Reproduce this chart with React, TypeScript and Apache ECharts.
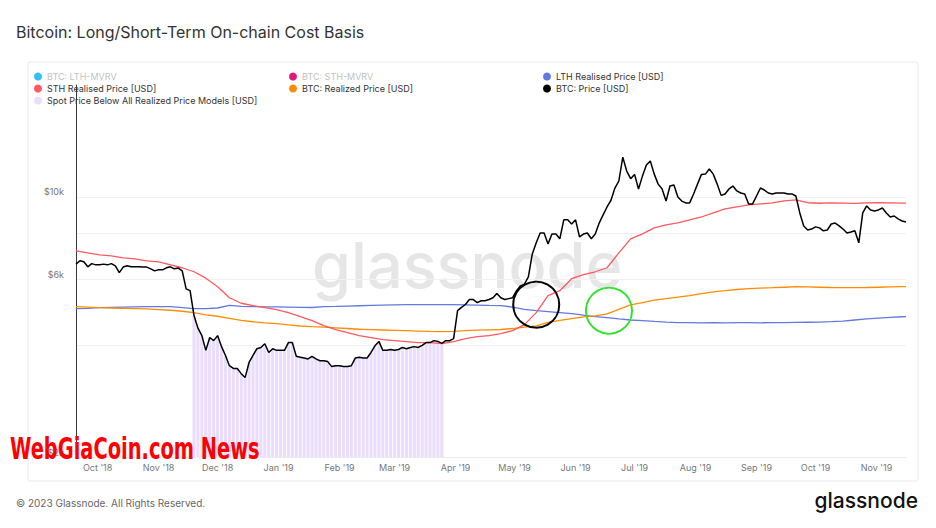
import React, { useEffect, useRef } from 'react';
import * as echarts from 'echarts';

// ---- data ----
const seriesStart = '2018-09-20';
const priceStepDays = 2;
const btcPrice = [
  6600, 6740, 6700, 6490, 6620, 6570, 6570, 6600, 6570, 6620,
  6530, 6260, 6480, 6530, 6490, 6490, 6490, 6480, 6480, 6410,
  6330, 6370, 6370, 6450, 6490, 6410, 6440, 6330, 5660, 5600,
  4800, 4440, 4240, 3870, 4190, 4110, 4240, 3960, 3750, 3520,
  3460, 3460, 3350, 3270, 3590, 3750, 3910, 3940, 4030, 3820,
  3910, 3870, 3870, 3870, 4060, 4060, 3730, 3710, 3690, 3670,
  3730, 3670, 3630, 3630, 3610, 3500, 3520, 3520, 3500, 3500,
  3520, 3690, 3710, 3690, 3690, 3820, 3980, 4090, 3870, 3870,
  3890, 3870, 3890, 3940, 3910, 3940, 3960, 3940, 3990, 4060,
  4060, 4110, 4090, 4040, 4110, 4110, 4160, 4950, 5050, 5140,
  5300, 5300, 5200, 5260, 5260, 5300, 5360, 5500, 5360, 5300,
  5330, 5360, 5600, 5770, 5830, 6100, 7030, 7530, 8000, 8000,
  7480, 7950, 7950, 7720, 8680, 8680, 8460, 8680, 7810, 7950,
  8000, 7720, 7950, 8510, 8950, 9400, 9800, 10570, 11040, 12800,
  11740, 11200, 11500, 10510, 11380, 12190, 12490, 11520, 10830, 10510,
  9750, 10700, 10770, 10000, 9750, 9640, 9640, 10190, 10830, 11500,
  11520, 11890, 11520, 10830, 10100, 10190, 10510, 10700, 10380, 10250,
  10190, 9580, 9580, 10060, 10570, 10440, 10250, 10190, 10250, 10250,
  10250, 10190, 10190, 10060, 9060, 8360, 8150, 8200, 8310, 8260,
  8110, 8150, 8460, 8510, 8360, 8200, 8000, 8050, 8110, 7530,
  9060, 9460, 9230, 9170, 9230, 9340, 9060, 8840, 8890, 8730,
  8620, 8570,
];

const modelStepDays = 6;
const modelLastDay = 422;
const sthRealisedPrice = [
  7166, 7080, 6992, 6948, 6863, 6821, 6737, 6696, 6573, 6453,
  6295, 6050, 5740, 5360, 5180, 5104, 5041, 4979, 4888, 4771,
  4652, 4511, 4403, 4322, 4240, 4189, 4137, 4111, 4086, 4060,
  4060, 4035, 4086, 4163, 4214, 4240, 4294, 4374, 4539, 4888,
  5428, 5598, 6030, 6181, 6295, 6453, 7078, 7716, 7957, 8257,
  8411, 8514, 8673, 8835, 9060, 9286, 9400, 9518, 9577, 9636,
  9757, 9817, 9650, 9620, 9640, 9630, 9610, 9640, 9650, 9640,
  9630, 9630,
];
const lthRealisedPrice = [
  5008, 5020, 5040, 5050, 5060, 5065, 5072, 5075, 5070, 5040,
  5010, 5010, 5030, 5110, 5080, 5072, 5065, 5065, 5060, 5050,
  5045, 5072, 5080, 5090, 5100, 5110, 5120, 5130, 5136, 5136,
  5136, 5136, 5136, 5130, 5120, 5110, 5104, 5060, 4990, 4950,
  4920, 4890, 4860, 4810, 4770, 4740, 4700, 4670, 4652, 4630,
  4610, 4595, 4595, 4590, 4595, 4590, 4595, 4595, 4590, 4595,
  4595, 4600, 4605, 4610, 4623, 4640, 4670, 4700, 4725, 4745,
  4765, 4771,
];
const btcRealizedPrice = [
  5072, 5056, 5040, 5030, 5020, 5010, 5000, 4980, 4960, 4930,
  4885, 4820, 4780, 4720, 4660, 4620, 4590, 4566, 4530, 4500,
  4480, 4470, 4450, 4430, 4410, 4400, 4390, 4380, 4370, 4360,
  4350, 4346, 4350, 4374, 4385, 4395, 4403, 4430, 4470, 4500,
  4600, 4660, 4710, 4760, 4790, 4850, 4990, 5130, 5200, 5280,
  5330, 5380, 5428, 5500, 5560, 5598, 5640, 5668, 5690, 5703,
  5720, 5739, 5730, 5720, 5710, 5703, 5703, 5710, 5720, 5730,
  5739, 5739,
];

const spotBelowFrom = '2018-11-19';
const spotBelowTo = '2019-03-26';

const yGridValues = [2000, 4000, 6000, 8000, 10000];
const yLabelValues = [2000, 6000, 10000];
const monthTicks = [
  '2018-10-01', '2018-11-01', '2018-12-01', '2019-01-01', '2019-02-01', '2019-03-01', '2019-04-01',
  '2019-05-01', '2019-06-01', '2019-07-01', '2019-08-01', '2019-09-01', '2019-10-01', '2019-11-01',
];
const monthNames = ['Jan', 'Feb', 'Mar', 'Apr', 'May', 'Jun', 'Jul', 'Aug', 'Sep', 'Oct', 'Nov', 'Dec'];

const circleNotes = [
  { date: '2019-05-12', value: 5136, color: '#000000' },
  { date: '2019-06-18', value: 4948, color: '#2ee22e' },
];

const NAMES = {
  lthMvrv: 'BTC: LTH-MVRV',
  sthMvrv: 'BTC: STH-MVRV',
  lth: 'LTH Realised Price [USD]',
  sth: 'STH Realised Price [USD]',
  realized: 'BTC: Realized Price [USD]',
  price: 'BTC: Price [USD]',
  below: 'Spot Price Below All Realized Price Models [USD]',
};

const COLORS = {
  lthMvrv: '#33bff2',
  sthMvrv: '#de1a80',
  lth: '#6279e0',
  sth: '#ff585e',
  realized: '#ff8c00',
  price: '#000000',
  below: '#e9ddfb',
};

// ---- helpers ----
function toTime(s: string): number {
  const [y, m, d] = s.split('-').map(Number);
  return new Date(y, m - 1, d).getTime();
}
function dayOffset(days: number): number {
  const [y, m, d] = seriesStart.split('-').map(Number);
  return new Date(y, m - 1, d + days).getTime();
}

const priceData = btcPrice.map((v, i) => [dayOffset(i * priceStepDays), v]);
const modelDay = (i: number, n: number) => (i === n - 1 ? modelLastDay : i * modelStepDays);
const toModel = (arr: number[]) => arr.map((v, i) => [dayOffset(modelDay(i, arr.length)), v]);
const belowFrom = toTime(spotBelowFrom);
const belowTo = toTime(spotBelowTo);
const belowData = priceData.filter(([t]) => t >= belowFrom && t <= belowTo);

const FONT = 'Inter, "Noto Sans", sans-serif';

export default function App() {
  const ref = useRef<HTMLDivElement>(null);
  useEffect(() => {
    if (!ref.current) return;
    const chart = echarts.init(ref.current, null, { renderer: 'svg' });
    const legendBase = {
      orient: 'vertical',
      icon: 'circle',
      itemWidth: 8,
      itemHeight: 8,
      itemGap: 3,
      top: 72,
      padding: 0,
      selectedMode: false,
      textStyle: { fontSize: 9, color: '#333', fontFamily: FONT },
    };
    const grey = { color: '#c2c2c2' };
    const lineSeries = (name: string, color: string, data: any[], width: number) => ({
      name,
      type: 'line',
      yAxisIndex: 0,
      data,
      symbol: 'none',
      showSymbol: false,
      lineStyle: { color, width },
      itemStyle: { color },
    });
    const option: any = {
      animation: false,
      backgroundColor: '#ffffff',
      title: {
        text: 'Bitcoin: Long/Short-Term On-chain Cost Basis',
        left: 16,
        top: 24,
        padding: 0,
        textStyle: { fontSize: 16, fontWeight: 'normal', color: '#333', fontFamily: FONT },
      },
      legend: [
        { ...legendBase, left: 34, data: [{ name: NAMES.lthMvrv, textStyle: grey }, NAMES.sth, NAMES.below] },
        { ...legendBase, left: 289, data: [{ name: NAMES.sthMvrv, textStyle: grey }, NAMES.realized] },
        { ...legendBase, left: 543, data: [NAMES.lth, NAMES.price] },
      ],
      grid: { left: 76, right: 30, top: 85, bottom: 71, containLabel: false },
      xAxis: {
        type: 'value',
        min: dayOffset(0),
        max: dayOffset(modelLastDay),
        axisLine: { show: true, lineStyle: { color: '#ececec' } },
        axisTick: { show: false, customValues: monthTicks.map(toTime) },
        splitLine: { show: false },
        axisLabel: {
          customValues: monthTicks.map(toTime),
          color: '#777',
          fontSize: 9,
          fontFamily: FONT,
          margin: 6,
          formatter: (v: number) => {
            const d = new Date(v);
            return monthNames[d.getMonth()] + " '" + String(d.getFullYear()).slice(2);
          },
        },
      },
      yAxis: [
        {
          type: 'log',
          logBase: 10,
          min: 2000,
          max: 20000,
          position: 'left',
          axisLine: { show: true, lineStyle: { color: '#3a3a3a', width: 1 } },
          axisTick: { show: false },
          axisLabel: { show: false },
          splitLine: { show: false },
        },
        {
          type: 'value',
          min: Math.log10(2000),
          max: Math.log10(20000),
          position: 'left',
          axisLine: { show: false },
          axisTick: { show: false, customValues: yGridValues.map((v) => Math.log10(v)) },
          splitLine: { show: true, lineStyle: { color: '#f1f1f1', width: 1 } },
          axisLabel: {
            customValues: yLabelValues.map((v) => Math.log10(v)),
            color: '#777',
            fontSize: 9,
            fontFamily: FONT,
            margin: 12,
            verticalAlign: 'bottom',
            lineHeight: 10,
            formatter: (v: number) => '$' + Math.round(Math.pow(10, v) / 1000) + 'k',
          },
        },
      ],
      series: [
        {
          name: NAMES.below,
          type: 'bar',
          yAxisIndex: 0,
          data: belowData,
          barWidth: 3.1,
          itemStyle: { color: COLORS.below },
          clip: true,
          z: 1,
        },
        lineSeries(NAMES.lthMvrv, COLORS.lthMvrv, [], 1),
        lineSeries(NAMES.sthMvrv, COLORS.sthMvrv, [], 1),
        lineSeries(NAMES.lth, COLORS.lth, toModel(lthRealisedPrice), 1.3),
        lineSeries(NAMES.realized, COLORS.realized, toModel(btcRealizedPrice), 1.3),
        {
          ...lineSeries(NAMES.sth, COLORS.sth, toModel(sthRealisedPrice), 1.3),
          markPoint: {
            silent: true,
            symbol: 'circle',
            symbolSize: 46,
            label: { show: false },
            data: circleNotes.map((c) => ({
              coord: [toTime(c.date), c.value],
              itemStyle: { color: 'rgba(0,0,0,0)', borderColor: c.color, borderWidth: 2 },
            })),
          },
        },
        lineSeries(NAMES.price, COLORS.price, priceData, 1.5),
      ],
      graphic: [
        {
          type: 'rect',
          z: -10,
          silent: true,
          shape: { x: 28, y: 62, width: 890, height: 419, r: 2 },
          style: { fill: 'none', stroke: '#ebebeb', lineWidth: 1 },
        },
        {
          type: 'text',
          z: -5,
          silent: true,
          left: 312,
          top: 233,
          style: { text: 'glassnode', fontSize: 63, fontFamily: FONT, fontWeight: 500, fill: '#e6e6e6' },
        },
        {
          type: 'text',
          silent: true,
          x: 10,
          y: 434,
          scaleX: 0.72,
          z: 100,
          style: {
            text: 'WebGiaCoin.com News',
            fontSize: 30,
            fontWeight: 'bold',
            fontFamily: '"DejaVu Sans Condensed", "DejaVu Sans", sans-serif',
            fill: '#ff0000',
            verticalAlign: 'top',
          },
        },
        {
          type: 'text',
          silent: true,
          left: 16,
          top: 498,
          style: { text: '© 2023 Glassnode. All Rights Reserved.', fontSize: 10, fontFamily: FONT, fill: '#666' },
        },
        {
          type: 'text',
          silent: true,
          right: 18,
          top: 490,
          style: { text: 'glassnode', fontSize: 21, fontFamily: FONT, fontWeight: 500, fill: '#111' },
        },
      ],
    };
    chart.setOption(option);
    return () => chart.dispose();
  }, []);
  return (
    <div
      ref={ref}
      style={{ position: 'fixed', left: 0, top: 0, width: 936, height: 528, background: '#fff' }}
    />
  );
}
